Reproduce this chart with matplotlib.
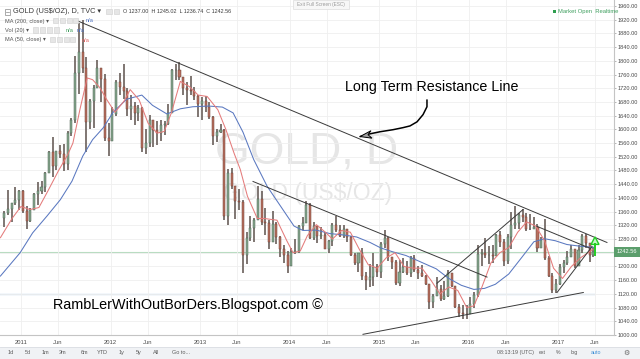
import matplotlib
matplotlib.use("Agg")
import matplotlib.pyplot as plt
from matplotlib.patches import Rectangle, Polygon
from matplotlib.lines import Line2D
import numpy as np

# ------------------------------------------------------------------ data
# semi-monthly bars, first bar = second half of October 2010
start_year, start_month, start_half = 2010, 10, 1
first_open = 1340
highs = [1362, 1424, 1385, 1432, 1424,
         1422, 1375, 1372, 1415, 1445, 1448, 1476, 1537, 1577, 1537, 1553, 1556,
         1595, 1632, 1815, 1911, 1920, 1812, 1690, 1730, 1803, 1770, 1763, 1620,
         1665, 1745, 1765, 1791, 1720, 1700, 1680, 1670, 1665, 1600, 1642, 1628,
         1625, 1627, 1625, 1675, 1775, 1790, 1796, 1750, 1737, 1755, 1725, 1700,
         1695, 1697, 1680, 1640, 1600, 1617, 1600, 1485, 1487, 1420, 1425, 1395,
         1300, 1348, 1340, 1434, 1420, 1370, 1336, 1362, 1330, 1290, 1262, 1245,
         1255, 1280, 1320, 1345, 1392, 1385, 1331, 1306, 1315, 1300, 1277, 1327,
         1346, 1322, 1322, 1300, 1290, 1238, 1240, 1255, 1183, 1207, 1238, 1207,
         1270, 1307, 1285, 1225, 1220, 1220, 1224, 1215, 1230, 1232, 1200, 1205,
         1175, 1150, 1120, 1170, 1145, 1157, 1190, 1180, 1142, 1090, 1088, 1088,
         1110, 1125, 1263, 1252, 1283, 1260, 1262, 1296, 1304, 1280, 1295, 1358,
         1375, 1357, 1367, 1356, 1352, 1345, 1325, 1285, 1338, 1230, 1180, 1162,
         1207, 1220, 1245, 1264, 1252, 1262, 1296, 1295, 1265, 1257]
lows = [1316, 1350, 1330, 1378, 1366,
        1355, 1309, 1330, 1365, 1380, 1410, 1418, 1475, 1462, 1480, 1517, 1478,
        1480, 1580, 1620, 1702, 1765, 1535, 1600, 1605, 1720, 1680, 1565, 1523,
        1565, 1640, 1700, 1688, 1640, 1627, 1612, 1625, 1535, 1527, 1550, 1550,
        1555, 1565, 1585, 1613, 1690, 1745, 1745, 1700, 1672, 1700, 1685, 1636,
        1626, 1650, 1630, 1554, 1562, 1590, 1335, 1321, 1425, 1338, 1365, 1180,
        1208, 1275, 1270, 1340, 1321, 1292, 1251, 1270, 1265, 1228, 1210, 1182,
        1210, 1235, 1238, 1305, 1328, 1280, 1277, 1268, 1280, 1250, 1240, 1260,
        1300, 1285, 1282, 1272, 1230, 1205, 1183, 1160, 1131, 1140, 1142, 1168,
        1167, 1255, 1215, 1192, 1147, 1142, 1180, 1175, 1170, 1185, 1162, 1168,
        1145, 1077, 1080, 1115, 1098, 1102, 1110, 1140, 1080, 1052, 1046, 1046,
        1060, 1080, 1110, 1200, 1225, 1208, 1210, 1230, 1258, 1200, 1207, 1250,
        1310, 1310, 1330, 1302, 1306, 1310, 1241, 1255, 1220, 1170, 1122, 1124,
        1146, 1180, 1205, 1230, 1195, 1200, 1240, 1255, 1214, 1229]
closes = [1357, 1368, 1384, 1394, 1421,
          1361, 1333, 1365, 1410, 1420, 1431, 1472, 1535, 1492, 1536, 1528, 1500,
          1588, 1628, 1765, 1826, 1780, 1622, 1682, 1720, 1780, 1746, 1576, 1565,
          1645, 1738, 1725, 1711, 1660, 1668, 1649, 1663, 1545, 1560, 1627, 1598,
          1590, 1614, 1615, 1648, 1772, 1772, 1752, 1720, 1714, 1712, 1697, 1675,
          1683, 1664, 1635, 1580, 1592, 1598, 1348, 1472, 1435, 1392, 1388, 1234,
          1283, 1313, 1335, 1396, 1330, 1327, 1272, 1324, 1287, 1251, 1234, 1202,
          1242, 1244, 1318, 1326, 1380, 1284, 1318, 1290, 1293, 1251, 1275, 1322,
          1305, 1290, 1310, 1286, 1233, 1211, 1238, 1172, 1160, 1170, 1197, 1184,
          1265, 1283, 1228, 1213, 1152, 1183, 1199, 1182, 1225, 1190, 1182, 1172,
          1150, 1095, 1115, 1133, 1106, 1114, 1182, 1142, 1082, 1065, 1062, 1061,
          1090, 1118, 1237, 1238, 1233, 1233, 1230, 1291, 1272, 1215, 1285, 1321,
          1327, 1351, 1343, 1308, 1310, 1316, 1255, 1277, 1225, 1173, 1130, 1150,
          1198, 1211, 1228, 1250, 1202, 1248, 1288, 1268, 1232, 1242.56]

ma200_t = [2010.77, 2010.99, 2011.13, 2011.29, 2011.44, 2011.57, 2011.69, 2011.80,
           2011.92, 2012.03, 2012.18, 2012.35, 2012.47, 2012.63, 2012.78, 2012.92,
           2013.10, 2013.25, 2013.37, 2013.48, 2013.60, 2013.75, 2013.90, 2014.05,
           2014.15, 2014.30, 2014.45, 2014.60, 2014.75, 2014.90, 2015.02, 2015.15,
           2015.30, 2015.45, 2015.64, 2015.78, 2015.92, 2016.06, 2016.18, 2016.30,
           2016.45, 2016.60, 2016.73, 2016.85, 2016.97, 2017.10, 2017.25, 2017.40]
ma200_v = [1172, 1240, 1298, 1347, 1395, 1449, 1522, 1570,
           1605, 1650, 1688, 1700, 1670, 1645, 1660, 1666,
           1668, 1665, 1648, 1592, 1512, 1434, 1376, 1318,
           1305, 1306, 1296, 1292, 1286, 1270, 1254, 1243,
           1232, 1215, 1193, 1165, 1145, 1133, 1136, 1148,
           1178, 1228, 1272, 1281, 1275, 1264, 1259, 1256]

ma50_t = [2010.77, 2010.90, 2011.00, 2011.10, 2011.20, 2011.30, 2011.42, 2011.52,
          2011.58, 2011.66, 2011.74, 2011.80, 2011.88, 2011.96, 2012.05, 2012.15,
          2012.22, 2012.32, 2012.42, 2012.52, 2012.60, 2012.68, 2012.78, 2012.88,
          2012.98, 2013.08, 2013.20, 2013.29, 2013.38, 2013.45, 2013.53, 2013.64,
          2013.72, 2013.80, 2013.86, 2013.97, 2014.04, 2014.12, 2014.20, 2014.30,
          2014.40, 2014.48, 2014.58, 2014.68, 2014.78, 2014.88, 2014.98, 2015.08,
          2015.18, 2015.28, 2015.38, 2015.48, 2015.58, 2015.68, 2015.78, 2015.88,
          2015.98, 2016.06, 2016.15, 2016.25, 2016.35, 2016.45, 2016.55, 2016.65,
          2016.75, 2016.85, 2016.95, 2017.05, 2017.15, 2017.25, 2017.39]
ma50_v = [1284, 1340, 1375, 1366, 1372, 1420, 1480, 1525,
          1560, 1660, 1750, 1745, 1722, 1686, 1650, 1682,
          1716, 1686, 1618, 1589, 1594, 1648, 1740, 1725,
          1700, 1696, 1657, 1599, 1531, 1483, 1405, 1340,
          1340, 1337, 1335, 1275, 1240, 1245, 1290, 1322,
          1300, 1280, 1305, 1300, 1250, 1205, 1195, 1225,
          1240, 1200, 1195, 1195, 1160, 1120, 1140, 1130,
          1080, 1085, 1140, 1210, 1240, 1255, 1300, 1330,
          1318, 1275, 1195, 1165, 1200, 1225, 1250]

# drawn trend lines: (t1, p1, t2, p2)
trend_lines = [
    (2011.637, 1916, 2017.547, 1270),   # long term resistance
    (2013.592, 1448, 2016.207, 1169),
    (2015.648, 1151, 2016.609, 1366),
    (2016.765, 1317, 2017.358, 1253),
    (2016.989, 1124, 2017.380, 1258),
    (2014.821, 1002, 2017.283, 1124),   # long support
]
support_level = 1119
support_end = 2017.40
last_price = 1242.56
ohlc = {"O": "1237.00", "H": "1245.02", "L": "1236.74", "C": "1242.56"}

# hand-drawn arrow (t, price)
arrow_t = [2015.536, 2015.536, 2015.492, 2015.425, 2015.346, 2015.268, 2015.156,
           2015.011, 2014.899, 2014.788]
arrow_p = [1686, 1666, 1643, 1622, 1610, 1605, 1599, 1593, 1587, 1579]

years = [2011, 2012, 2013, 2014, 2015, 2016, 2017]
price_ticks = list(range(1000, 1961, 40))

# ------------------------------------------------------------------ figure
W, H = 640, 359
fig = plt.figure(figsize=(6.4, 3.59), dpi=100)
fig.patch.set_facecolor("white")
FAM = ["Liberation Sans", "DejaVu Sans"]
plt.rcParams["font.family"] = FAM


def fx(x):
    return x / W


def fy(y):
    return 1 - y / H


x0_px, x1_px, y0_px, y1_px = 0, 614, 0, 335
ax = fig.add_axes([fx(x0_px), fy(y1_px), (x1_px - x0_px) / W, (y1_px - y0_px) / H])
ax.set_facecolor("white")


def px_to_t(x):
    return 2011 + (x - 21) / 89.5


def px_to_p(y):
    return 1960 - (y - 6) * 2.911


ax.set_xlim(px_to_t(x0_px), px_to_t(x1_px))
ax.set_ylim(px_to_p(y1_px), px_to_p(y0_px))

xt, xl = [], []
for y in years:
    xt += [y, y + 151 / 365]
    xl += [str(y), "Jun"]
ax.set_xticks(xt)
ax.set_xticklabels(xl)
ax.set_yticks(price_ticks)
ax.set_yticklabels([f"{v:.2f}" for v in price_ticks])
ax.yaxis.tick_right()
ax.tick_params(axis="x", length=0, pad=3.6, labelsize=4.2, labelcolor="#4a4a4a")
ax.tick_params(axis="y", length=1.6, width=0.5, color="#9a9a9a", pad=1.2,
               labelsize=4.1, labelcolor="#4a4a4a")
ax.grid(True, color="#efefef", lw=0.6, zorder=0)
for s in ["top", "left"]:
    ax.spines[s].set_visible(False)
for s in ["right", "bottom"]:
    ax.spines[s].set_color("#c4c4c4")
    ax.spines[s].set_linewidth(0.8)

# watermark
ax.text(px_to_t(307), px_to_p(152), "GOLD, D", fontsize=32, color="#e6e6e6",
        ha="center", va="center", zorder=0.5)
ax.text(px_to_t(308), px_to_p(194), "GOLD (US$/OZ)", fontsize=16.5, color="#e6e6e6",
        ha="center", va="center", zorder=0.5)

# horizontal lines
ax.plot([px_to_t(0), support_end], [support_level, support_level],
        color="#c4dbee", lw=1.0, zorder=1)
ax.axhline(last_price, color="#b9dcc2", lw=0.8, zorder=1)

# candles
n = len(closes)
k = np.arange(n)
m = (start_month - 1) + (start_half + k) // 2
half = (start_half + k) % 2
tc = start_year + m / 12 + (half * 0.5 + 0.25) / 12
opens = np.r_[first_open, np.array(closes[:-1], dtype=float)]
closes_a = np.array(closes, dtype=float)
up = closes_a >= opens
ax.vlines(tc, lows, highs, color="#6f6561", lw=1.25, zorder=2)
bw = 0.55 / 24
bot = np.minimum(opens, closes_a)
hgt = np.maximum(np.abs(closes_a - opens), 1.5)
ax.bar(tc[up], hgt[up], bottom=bot[up], width=bw, color="#86a68d",
       edgecolor="#4f6655", lw=0.35, zorder=3)
ax.bar(tc[~up], hgt[~up], bottom=bot[~up], width=bw, color="#b8705f",
       edgecolor="#704238", lw=0.35, zorder=3)

# moving averages
ax.plot(ma200_t, ma200_v, color="#5a78c0", lw=0.75, zorder=4)
ax.plot(ma50_t, ma50_v, color="#e47b7b", lw=0.75, zorder=4)

# trend lines
for t1, p1, t2, p2 in trend_lines:
    ax.plot([t1, t2], [p1, p2], color="#3a3a3a", lw=0.7, zorder=5)

# annotation texts
ax.text(px_to_t(345), px_to_p(87), "Long Term Resistance Line", fontsize=10.3,
        color="black", ha="left", va="center", zorder=6)
ax.text(px_to_t(53), px_to_p(306), "RambLerWithOutBorDers.Blogspot.com \u00a9",
        fontsize=10.4, color="black", ha="left", va="center", zorder=6)

# hand drawn arrow
ax.plot(arrow_t, arrow_p, color="black", lw=1.1, zorder=6, solid_capstyle="round")
tip = (arrow_t[-1], arrow_p[-1])
head = Polygon([tip, (px_to_t(371), px_to_p(131)), (px_to_t(368), px_to_p(135)),
                (px_to_t(372), px_to_p(138.5))], closed=True,
               facecolor="#a0a0a0", edgecolor="black", lw=0.7, zorder=6)
ax.add_patch(head)

# green arrow near the last bar
ga_t = px_to_t(595)
dt = 4 / 89.5
tri = Polygon([(ga_t, px_to_p(237.5)), (ga_t - dt, px_to_p(245)), (ga_t + dt, px_to_p(245))],
              closed=True, facecolor="#c9f7c9", edgecolor="#22cc22", lw=1.0, zorder=7)
ax.add_patch(tri)
ax.plot([ga_t, ga_t], [px_to_p(245), px_to_p(256)], color="#22cc22", lw=1.4, zorder=7)

# last price label on the price scale
trans = ax.get_yaxis_transform()
ax.add_patch(Rectangle((1.0, last_price - 15), (W - x1_px) / (x1_px - x0_px), 30,
                       transform=trans, facecolor="#5b9e6c", edgecolor="none",
                       clip_on=False, zorder=10))
ax.text(1.0 + 3 / (x1_px - x0_px), last_price, f"{last_price:.2f}", transform=trans,
        fontsize=4.1, color="white", ha="left", va="center", clip_on=False, zorder=11)

# ------------------------------------------------------------------ UI chrome
fig.patches.append(Rectangle((fx(5), fy(15)), 5 / W, 6 / H, transform=fig.transFigure,
                             facecolor="none", edgecolor="#888888", lw=0.5))
fig.lines.append(Line2D([fx(6.3), fx(8.7)], [fy(12), fy(12)], transform=fig.transFigure,
                        color="#888888", lw=0.5))
fig.text(fx(13), fy(11.5), "GOLD (US$/OZ), D, TVC \u25be", fontsize=5.3, color="#3a3a3a",
         ha="left", va="center", family=FAM)


def icons(xs, ytop, size=5.5):
    for x in xs:
        fig.patches.append(Rectangle((fx(x), fy(ytop + size)), size / W, size / H,
                                     transform=fig.transFigure, facecolor="#e6e6e6",
                                     edgecolor="#cfcfcf", lw=0.4))


icons([106, 113.5], 8.5)
fig.text(fx(123), fy(11.5),
         "O {O}  H {H}  L {L}  C {C}".format(**ohlc), fontsize=3.9, color="#3a3a3a",
         ha="left", va="center")

rows = [
    (21, "MA (200, close) \u25be", [53, 60, 67, 73], [("n/a", "#4a6fc0", 86)]),
    (30.5, "Vol (20) \u25be", [33, 40, 47, 54], [("n/a", "#3c9c5a", 66), ("n/a", "#4a6fc0", 77)]),
    (40, "MA (50, close) \u25be", [50, 57, 64, 70], [("n/a", "#e06060", 82)]),
]
for yy, lab, ix, nas in rows:
    fig.text(fx(5), fy(yy), lab, fontsize=4.1, color="#555555", ha="left", va="center",
             family=FAM)
    icons(ix, yy - 3, 5)
    for s, c, xx in nas:
        fig.text(fx(xx), fy(yy), s, fontsize=4.1, color=c, ha="left", va="center")

fig.patches.append(Rectangle((fx(293), fy(9)), 56 / W, 9 / H, transform=fig.transFigure,
                             facecolor="#f7f7f7", edgecolor="#dddddd", lw=0.5))
fig.text(fx(321), fy(4.5), "Exit Full Screen (ESC)", fontsize=3.4, color="#9a9a9a",
         ha="center", va="center")

fig.patches.append(Rectangle((fx(552.5), fy(12.5)), 3 / W, 3 / H, transform=fig.transFigure,
                             facecolor="#2e9e4f", edgecolor="none"))
fig.text(fx(558), fy(11), "Market Open  Realtime", fontsize=4.2, color="#3f9f5f",
         ha="left", va="center")

# bottom toolbar
fig.patches.append(Rectangle((0, 0), 1, 12 / H, transform=fig.transFigure,
                             facecolor="#f0f2f5", edgecolor="none"))
fig.lines.append(Line2D([0, 1], [fy(347), fy(347)], transform=fig.transFigure,
                        color="#dadde2", lw=0.6))
for s, xx in [("1d", 8), ("5d", 25), ("1m", 42), ("3m", 59), ("6m", 81), ("YTD", 97),
              ("1y", 119), ("5y", 136), ("All", 153), ("Go to...", 172)]:
    fig.text(fx(xx), fy(352.5), s, fontsize=4.0, color="#5a5a5a", ha="left", va="center")
for s, xx, c in [("08:13:19 (UTC)", 497, "#5a5a5a"), ("ext", 539, "#5a5a5a"),
                 ("%", 556, "#5a5a5a"), ("log", 571, "#5a5a5a"),
                 ("auto", 591, "#3d8fd6")]:
    fig.text(fx(xx), fy(352.5), s, fontsize=3.8, color=c, ha="left", va="center")
fig.text(fx(626), fy(352.5), "\u2699", fontsize=5, color="#666666", ha="center",
         va="center", family=["DejaVu Sans"])

fig.savefig("out.png", dpi=100)
